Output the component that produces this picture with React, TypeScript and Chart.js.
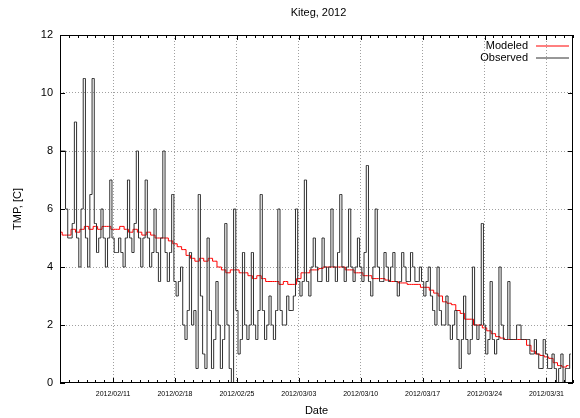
import React, { useEffect, useRef } from "react";
import { Chart, registerables } from "chart.js";

Chart.register(...registerables);

// Observed temperature, 4 readings per day (00h, 06h, 12h, 18h), from 2012/02/05
const observed: number[] = [
  8, 8, 8, 6, // 02/05
  5, 5, 5.5, 9,
  5, 4, 6, 10.5,
  5, 4, 6.5, 10.5,
  5.5, 4.5, 5, 6,
  5, 4, 5, 7, // 02/10
  5, 4.5, 4.5, 5,
  4.5, 4, 5, 7,
  5, 4.5, 5.5, 8,
  5, 4, 5, 7,
  5, 4, 4.5, 6, // 02/15
  4.5, 3.5, 5, 8,
  4.5, 3.5, 4.5, 6.5,
  3.5, 3, 3.5, 4,
  2, 1.5, 2.5, 4.5,
  2, 2.5, 0.5, 6.5, // 02/20
  3, 1, 0.5, 5,
  2.5, 0.5, 1.5, 3.5,
  2, 0.5, 1.5, 5.5,
  2, 0.5, 0, 6,
  2.5, 1, 1.5, 4.5, // 02/25
  2, 1.5, 2, 4.5,
  2, 1.5, 2.5, 6.5,
  2.5, 1.5, 2, 3,
  2, 1.5, 2.5, 6,
  2.5, 2, 2, 3, // 03/01
  2.5, 2.5, 3, 6,
  3.5, 3, 3.5, 7,
  3.5, 3, 4, 5,
  4, 3.5, 3.5, 5,
  4, 3.5, 4, 6, // 03/06
  4, 3.5, 4.5, 6.5,
  4, 3.5, 4, 6,
  4, 3.5, 4, 5,
  4, 3.5, 4.5, 7.5,
  3.5, 3, 4, 6, // 03/11
  4, 3.5, 3.5, 4.5,
  4, 3.5, 4, 4.5,
  3.5, 3, 3.5, 4.5,
  4, 3.5, 3.5, 4.5,
  4, 3.5, 3.5, 4, // 03/16
  3.5, 3, 3.5, 4,
  3, 2.5, 2, 4,
  2.5, 2, 2, 3,
  2, 1.5, 2, 2.5,
  1.5, 0.5, 1.5, 3, // 03/21
  1.5, 1, 1.5, 4,
  2, 1.5, 2, 5.5,
  2, 1, 1.5, 3.5,
  1.5, 1, 1.5, 4,
  2, 1.5, 1.5, 3.5, // 03/26
  1.5, 1.5, 1.5, 2,
  2, 1.5, 1.5, 1.5,
  1.5, 1, 1, 1.5,
  1, 0.5, 0.5, 1.5,
  1, 0.5, 0.5, 1, // 03/31
  0.5, 0, 0.5, 1,
  0, 0.5, 0.5, 1,
];

// Modeled temperature, 2 values per day (00h, 12h), from 2012/02/05
const modeled: number[] = [
  5.2, 5.1, 5.1, 5.3, 5.2, 5.3, 5.4, 5.3, 5.4, 5.3,
  5.4, 5.4, 5.3, 5.3, 5.4, 5.3, 5.2, 5.3, 5.2, 5.1,
  5.2, 5.1, 5.0, 5.0, 5.0, 4.9, 4.8, 4.7, 4.6, 4.4,
  4.3, 4.2, 4.3, 4.2, 4.3, 4.2, 4.0, 3.9, 3.8, 3.9,
  3.9, 3.8, 3.8, 3.7, 3.6, 3.7, 3.6, 3.5, 3.5, 3.5,
  3.4, 3.5, 3.4, 3.4, 3.6, 3.8, 3.8, 3.9, 3.9, 3.95,
  4.0, 4.0, 4.0, 4.0, 4.0, 3.9, 3.9, 3.8, 3.8, 3.7,
  3.7, 3.6, 3.6, 3.6, 3.55, 3.5, 3.5, 3.45, 3.45, 3.4,
  3.4, 3.4, 3.3, 3.3, 3.2, 3.1, 3.0, 2.8, 2.75, 2.7,
  2.5, 2.4, 2.2, 2.2, 2.0, 2.0, 1.9, 1.8, 1.7, 1.6,
  1.55, 1.5, 1.5, 1.5, 1.5, 1.5, 1.3, 1.1, 1.0, 0.95,
  0.9, 0.85, 0.7, 0.6, 0.55, 0.6,
];

const observedPerDay = 4;
const modeledPerDay = 2;
const totalDays = 58; // 2012/02/05 .. 2012/04/04
const majorTickDays = [6, 13, 20, 27, 34, 41, 48, 55];
const majorTickLabels = [
  "2012/02/11", "2012/02/18", "2012/02/25", "2012/03/03",
  "2012/03/10", "2012/03/17", "2012/03/24", "2012/03/31",
];
const yTicks = [0, 2, 4, 6, 8, 10, 12];

const FONT = "'Liberation Sans', Arial, sans-serif";

const framePlugin = {
  id: "gnuFrame",
  afterDraw(chart: any) {
    const { ctx, chartArea: a, scales } = chart;
    const xs = scales.x;
    const ys = scales.y;
    ctx.save();
    ctx.strokeStyle = "#000";
    ctx.lineWidth = 1;
    // border
    ctx.strokeRect(Math.round(a.left) + 0.5, Math.round(a.top) + 0.5,
      Math.round(a.right - a.left) - 1, Math.round(a.bottom - a.top) - 1);
    // x ticks (inward, mirrored)
    ctx.beginPath();
    for (let d = 0; d <= totalDays; d++) {
      const px = Math.round(xs.getPixelForValue(d)) + 0.5;
      const len = majorTickDays.includes(d) ? 5 : 3;
      ctx.moveTo(px, a.bottom);
      ctx.lineTo(px, a.bottom - len);
      ctx.moveTo(px, a.top);
      ctx.lineTo(px, a.top + len);
    }
    for (const v of yTicks) {
      const py = Math.round(ys.getPixelForValue(v)) + 0.5;
      ctx.moveTo(a.left, py);
      ctx.lineTo(a.left + 5, py);
      ctx.moveTo(a.right, py);
      ctx.lineTo(a.right - 5, py);
    }
    ctx.stroke();

    // texts
    ctx.fillStyle = "#000";
    ctx.font = `11px ${FONT}`;
    ctx.textAlign = "center";
    ctx.textBaseline = "middle";
    ctx.fillText("Kiteg, 2012", (a.left + a.right) / 2 + 2, 13);
    ctx.fillText("Date", (a.left + a.right) / 2, 411);
    ctx.save();
    ctx.translate(18, (a.top + a.bottom) / 2);
    ctx.rotate(-Math.PI / 2);
    ctx.fillText("TMP, [C]", 0, 0);
    ctx.restore();

    // legend
    const items = [
      { label: "Modeled", color: "#ff0000", y: 46 },
      { label: "Observed", color: "#303030", y: 58 },
    ];
    ctx.textAlign = "right";
    for (const it of items) {
      ctx.fillStyle = "#000";
      ctx.fillText(it.label, 528, it.y - 0.5);
      ctx.strokeStyle = it.color;
      ctx.beginPath();
      ctx.moveTo(536, it.y);
      ctx.lineTo(569, it.y);
      ctx.stroke();
    }
    ctx.restore();
  },
};

export default function App() {
  const ref = useRef<HTMLCanvasElement | null>(null);
  useEffect(() => {
    if (!ref.current) return;
    const obsData = observed.map((v, i) => ({ x: i / observedPerDay, y: v }));
    const modData = modeled.map((v, i) => ({ x: i / modeledPerDay, y: v }));
    const chart = new Chart(ref.current, {
      type: "line",
      data: {
        datasets: [
          {
            label: "Observed",
            data: obsData,
            borderColor: "#303030",
            borderWidth: 1,
            pointRadius: 0,
            stepped: "middle",
            fill: false,
          },
          {
            label: "Modeled",
            data: modData,
            borderColor: "#ff0000",
            borderWidth: 1,
            pointRadius: 0,
            stepped: "middle",
            fill: false,
          },
        ],
      },
      options: {
        animation: false,
        responsive: false,
        devicePixelRatio: 1,
        events: [],
        layout: { padding: { left: 0, right: 6, top: 35, bottom: 0 } },
        plugins: { legend: { display: false }, title: { display: false }, tooltip: { enabled: false } },
        scales: {
          x: {
            type: "linear",
            min: 0,
            max: totalDays,
            afterBuildTicks: (scale: any) => {
              scale.ticks = [];
              for (let d = 0; d <= totalDays; d++) scale.ticks.push({ value: d });
            },
            afterFit: (scale: any) => {
              scale.height = 35;
            },
            ticks: {
              autoSkip: false,
              maxRotation: 0,
              minRotation: 0,
              padding: 7,
              color: "#000",
              font: { family: FONT, size: 7 },
              callback: (value: any) => {
                const idx = majorTickDays.indexOf(Number(value));
                return idx >= 0 ? majorTickLabels[idx] : "";
              },
            },
            grid: {
              drawTicks: false,
              lineWidth: 1,
              color: (c: any) =>
                c.tick && majorTickDays.includes(c.tick.value) ? "#a0a0a0" : "rgba(0,0,0,0)",
            },
            border: { display: false, dash: [1, 2] },
          },
          y: {
            type: "linear",
            min: 0,
            max: 12,
            afterBuildTicks: (scale: any) => {
              scale.ticks = yTicks.map((v) => ({ value: v }));
            },
            afterFit: (scale: any) => {
              scale.width = 60;
            },
            ticks: {
              padding: 7,
              color: "#000",
              font: { family: FONT, size: 11 },
              callback: (value: any) => String(value),
            },
            grid: {
              drawTicks: false,
              lineWidth: 1,
              color: (c: any) =>
                c.tick && c.tick.value > 0 && c.tick.value < 12 ? "#a0a0a0" : "rgba(0,0,0,0)",
            },
            border: { display: false, dash: [1, 2] },
          },
        },
      },
      plugins: [framePlugin],
    });
    return () => chart.destroy();
  }, []);

  return (
    <div style={{ position: "absolute", left: 0, top: 0, width: 580, height: 418, background: "#fff" }}>
      <canvas ref={ref} width={580} height={418} style={{ display: "block", width: 580, height: 418 }} />
    </div>
  );
}
